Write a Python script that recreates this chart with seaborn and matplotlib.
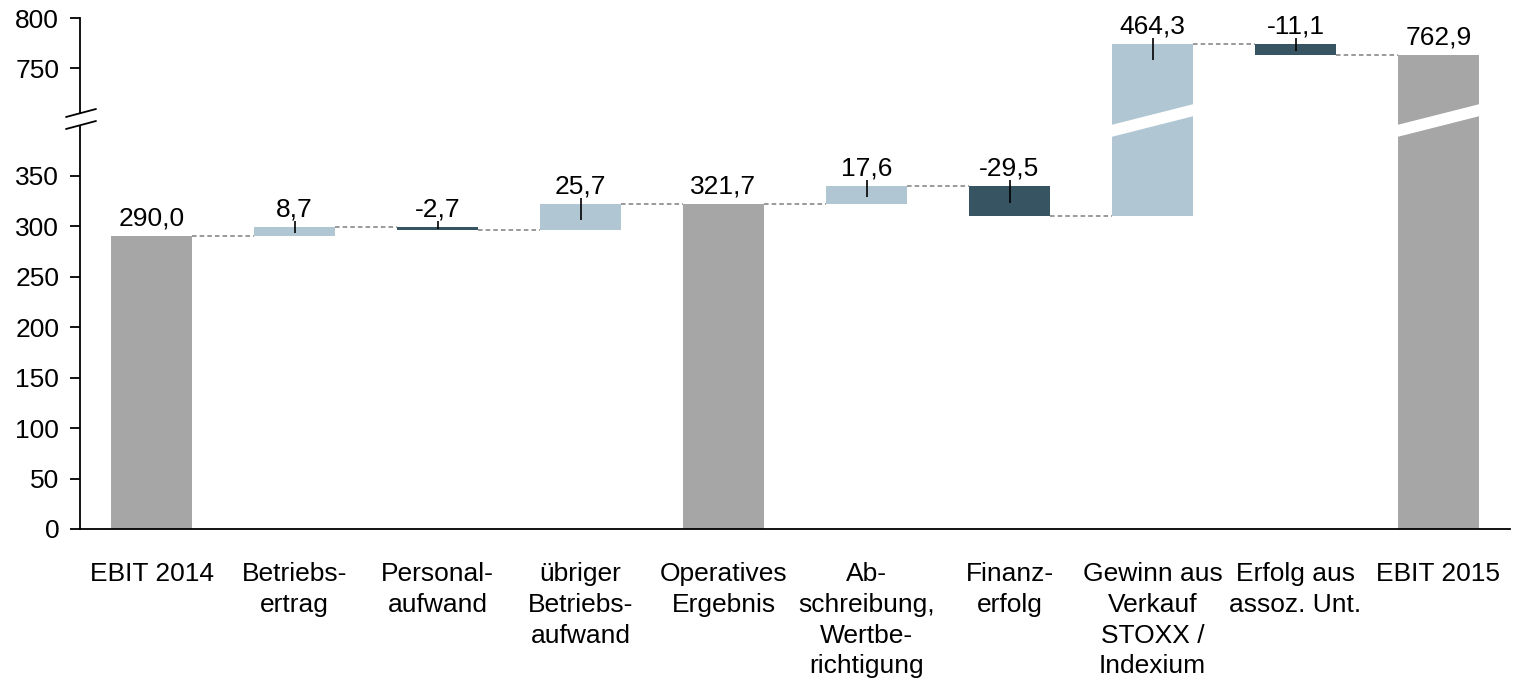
import numpy as np
import pandas as pd
import matplotlib.pyplot as plt
import seaborn as sns
from matplotlib.patches import Polygon
from matplotlib.lines import Line2D
from matplotlib.transforms import blended_transform_factory

categories = ["EBIT 2014", "Betriebs-\nertrag", "Personal-\naufwand",
              "übriger\nBetriebs-\naufwand", "Operatives\nErgebnis",
              "Ab-\nschreibung,\nWertbe-\nrichtigung", "Finanz-\nerfolg",
              "Gewinn aus\nVerkauf\nSTOXX /\nIndexium", "Erfolg aus\nassoz. Unt.",
              "EBIT 2015"]
values = [290.0, 8.7, -2.7, 25.7, 321.7, 17.6, -29.5, 464.3, -11.1, 762.9]
is_total = [True, False, False, False, True, False, False, False, False, True]
value_labels = ["290,0", "8,7", "-2,7", "25,7", "321,7", "17,6", "-29,5",
                "464,3", "-11,1", "762,9"]

low_lim = (0, 407)
high_lim = (700, 800)

c_total = "#a6a6a6"
c_pos = "#b0c6d3"
c_neg = "#375462"
fs = 19

# running levels for the waterfall
bottoms, heights, levels = [], [], []
run = 0.0
for v, tot in zip(values, is_total):
    if tot:
        bottoms.append(0.0)
        heights.append(v)
        run = v
    else:
        bottoms.append(run)
        heights.append(v)
        run = run + v
    levels.append(run)
df = pd.DataFrame({"cat": categories, "bottom": bottoms, "height": heights,
                   "level": levels, "total": is_total})
colors = [c_total if t else (c_pos if h > 0 else c_neg)
          for t, h in zip(df["total"], df["height"])]

sns.set_theme(style="white")
plt.rcParams["font.family"] = ["Liberation Sans", "DejaVu Sans"]

W, H = 1513, 681
fig = plt.figure(figsize=(W / 100, H / 100), dpi=100)
x0, x1 = 80 / W, 1510 / W
y_join = 1 - 118 / H
ax_hi = fig.add_axes([x0, y_join, x1 - x0, (118 - 18) / H])
ax_lo = fig.add_axes([x0, 1 - 529 / H, x1 - x0, (529 - 118) / H])

for ax, lim in [(ax_lo, low_lim), (ax_hi, high_lim)]:
    sns.barplot(data=df, x="cat", y="height", bottom=df["bottom"].values,
                width=0.56, errorbar=None, color=c_total, linewidth=0, ax=ax)
    for p, c in zip(ax.patches, colors):
        p.set_facecolor(c)
        p.set_edgecolor(c)
    ax.set_ylim(*lim)
    ax.set_xlim(-0.5, len(categories) - 0.5)
    ax.set_xlabel("")
    ax.set_ylabel("")
    # dashed connectors
    for i in range(len(categories) - 1):
        ax.hlines(df["level"][i], i + 0.28, i + 1 - 0.28, colors="#7f7f7f",
                  linestyles=(0, (3, 2)), linewidth=1.1, zorder=1)
    for s in ["top", "right"]:
        ax.spines[s].set_visible(False)
    ax.spines["left"].set_color("black")
    ax.spines["left"].set_linewidth(1.3)
    ax.tick_params(axis="y", length=7, width=1.3, color="black",
                   labelcolor="black", labelsize=fs, pad=8, left=True)

ax_hi.spines["bottom"].set_visible(False)
ax_hi.set_xticks([])
ax_hi.set_yticks([750, 800])
ax_lo.set_yticks(np.arange(0, 351, 50))
ax_lo.spines["bottom"].set_color("black")
ax_lo.spines["bottom"].set_linewidth(1.3)
ax_lo.tick_params(axis="x", length=0, labelsize=fs, labelcolor="black", pad=24)
for t in ax_lo.get_xticklabels():
    t.set_linespacing(1.35)

# value labels and small marker lines
for i in range(len(categories)):
    b, h = df["bottom"][i], df["height"][i]
    top = max(b, b + h)
    ax = ax_hi if top > low_lim[1] else ax_lo
    ax.annotate(value_labels[i], (i, top), xytext=(0, 7.5),
                textcoords="offset points", ha="center", va="baseline",
                fontsize=fs, color="black")
    if not df["total"][i]:
        ax.vlines(i, top - min(0.6 * abs(h), 16), top + 6, colors="black",
                  linewidth=1.2, zorder=3)

# break band across bars that span the gap
tr = blended_transform_factory(ax_lo.transData, fig.transFigure)
for i in range(len(categories)):
    b, h = df["bottom"][i], df["height"][i]
    if b < low_lim[1] and b + h > high_lim[0]:
        xl, xr = i - 0.29, i + 0.29
        yl, yr = 1 - 131 / H, 1 - 110 / H
        d = 6 / H
        fig.add_artist(Polygon([(xl, yl - d), (xl, yl + d), (xr, yr + d), (xr, yr - d)],
                               closed=True, facecolor="white", edgecolor="none",
                               transform=tr, zorder=5))

# axis break marks
ft = fig.transFigure
fig.add_artist(Polygon([(66 / W, 1 - 117 / H), (96 / W, 1 - 109 / H),
                        (96 / W, 1 - 121 / H), (66 / W, 1 - 129 / H)],
                       closed=True, facecolor="white", edgecolor="none",
                       transform=ft, zorder=5))
for ya, yb in [(117, 109), (129, 121)]:
    fig.add_artist(Line2D([66 / W, 96 / W], [1 - ya / H, 1 - yb / H],
                          color="black", linewidth=1.3, transform=ft, zorder=6))

fig.savefig("out.png", dpi=100)
